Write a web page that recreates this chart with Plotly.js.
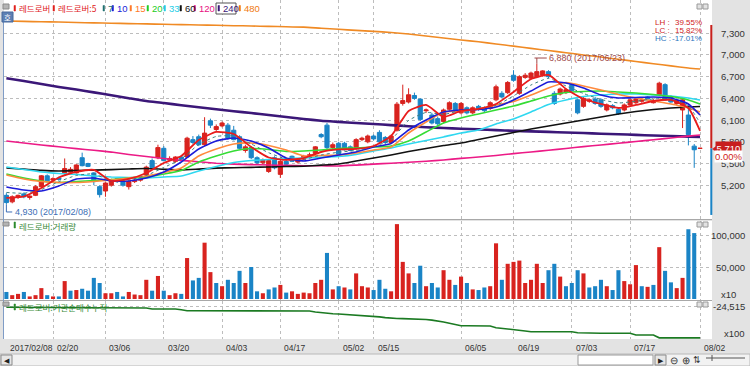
<!DOCTYPE html>
<html><head><meta charset="utf-8">
<script src="https://cdn.plot.ly/plotly-3.0.1.min.js"></script>
<style>html,body{margin:0;padding:0;background:#fff}#chart{width:750px;height:366px}</style>
</head><body><div id="chart"></div>
<script>
const stockName = '레드로버';
const dates = ['2017/02/08','2017/02/09','2017/02/10','2017/02/13','2017/02/14','2017/02/15','2017/02/16','2017/02/17','2017/02/20','2017/02/21','2017/02/22','2017/02/23','2017/02/24','2017/02/27','2017/02/28',
'2017/03/02','2017/03/03','2017/03/06','2017/03/07','2017/03/08','2017/03/09','2017/03/10','2017/03/13','2017/03/14','2017/03/15','2017/03/16','2017/03/17','2017/03/20','2017/03/21','2017/03/22','2017/03/23','2017/03/24','2017/03/27','2017/03/28','2017/03/29','2017/03/30','2017/03/31',
'2017/04/03','2017/04/04','2017/04/05','2017/04/06','2017/04/07','2017/04/10','2017/04/11','2017/04/12','2017/04/13','2017/04/14','2017/04/17','2017/04/18','2017/04/19','2017/04/20','2017/04/21','2017/04/24','2017/04/25','2017/04/26','2017/04/27','2017/04/28',
'2017/05/02','2017/05/04','2017/05/08','2017/05/10','2017/05/11','2017/05/12','2017/05/15','2017/05/16','2017/05/17','2017/05/18','2017/05/19','2017/05/22','2017/05/23','2017/05/24','2017/05/25','2017/05/26','2017/05/29','2017/05/30','2017/05/31',
'2017/06/01','2017/06/02','2017/06/05','2017/06/07','2017/06/08','2017/06/09','2017/06/12','2017/06/13','2017/06/14','2017/06/15','2017/06/16','2017/06/19','2017/06/20','2017/06/21','2017/06/22','2017/06/23','2017/06/26','2017/06/27','2017/06/28','2017/06/29','2017/06/30',
'2017/07/03','2017/07/04','2017/07/05','2017/07/06','2017/07/07','2017/07/10','2017/07/11','2017/07/12','2017/07/13','2017/07/14','2017/07/17','2017/07/18','2017/07/19','2017/07/20','2017/07/21','2017/07/24','2017/07/25','2017/07/26','2017/07/27','2017/07/28','2017/07/31',
'2017/08/01','2017/08/02'];

const open = [5060,4970,5030,5080,5030,5060,5180,5330,5270,5300,
5360,5380,5370,5580,5500,5370,5180,5120,5200,5290,
5250,5180,5250,5270,5340,5540,5580,5710,5550,5530,
5590,5590,5830,5870,5760,6090,5970,6020,6030,5960,
5870,5680,5720,5580,5510,5390,5580,5350,5530,5600,
5520,5560,5600,5640,5900,6030,5720,5780,5780,5730,
5710,5830,5800,5880,5930,5860,5790,5960,6330,6350,
6440,6390,6230,6170,6120,6080,6250,6330,6200,6270,
6200,6290,6270,6260,6380,6470,6480,6720,6470,6690,
6680,6700,6720,6770,6470,6460,6480,6590,6380,6290,
6360,6390,6380,6240,6300,6250,6240,6310,6340,6360,
6420,6340,6450,6590,6420,6330,6240,6170,5740,5710];
const high = [5090,5060,5070,5100,5060,5200,5340,5350,5310,5320,
5570,5450,5490,5650,5510,5380,5200,5240,5290,5300,
5260,5270,5290,5310,5470,5570,5760,5740,5600,5600,
5610,5870,5880,5900,6140,6120,6040,6080,6060,6020,
5890,5760,5740,5600,5570,5560,5600,5550,5560,5610,
5570,5620,5650,5740,5920,6060,5790,5800,5800,5750,
5850,5870,5900,5900,5960,5880,5900,6350,6590,6540,
6480,6400,6260,6200,6150,6260,6360,6350,6350,6290,
6290,6310,6290,6360,6590,6500,6640,6790,6720,6750,
6770,6880,6790,6790,6500,6550,6540,6610,6400,6420,
6400,6420,6400,6330,6320,6270,6330,6400,6410,6400,
6430,6390,6630,6610,6440,6380,6390,6310,5770,5710];
const low = [4930,4950,5010,5020,5000,5050,5170,5240,5250,5260,
5340,5360,5360,5460,5450,5200,5030,5040,5180,5230,
5180,5140,5230,5250,5320,5430,5560,5530,5540,5510,
5540,5580,5770,5740,5740,5990,5950,6000,5830,5820,
5700,5650,5560,5490,5490,5370,5420,5300,5470,5520,
5500,5540,5580,5620,5850,5700,5700,5600,5680,5670,
5690,5810,5780,5820,5780,5770,5770,5940,6300,6330,
6380,6090,6200,6040,6020,6060,6230,6200,6180,6180,
6180,6230,6210,6240,6360,6400,6460,6630,6450,6670,
6660,6680,6700,6680,6310,6440,6460,6500,6180,6270,
6340,6310,6270,6220,6250,6170,6220,6290,6320,6340,
6370,6330,6430,6370,6340,6310,5990,5750,5440,5710];
const close = [4960,5040,5060,5040,5050,5180,5330,5260,5290,5280,
5430,5420,5480,5470,5460,5250,5070,5230,5280,5250,
5200,5250,5270,5290,5450,5440,5720,5540,5570,5590,
5560,5850,5790,5760,5920,6030,6010,6060,5850,5830,
5710,5730,5580,5510,5550,5540,5440,5530,5490,5530,
5560,5600,5620,5730,5870,5720,5760,5620,5690,5680,
5830,5850,5880,5840,5800,5790,5880,6320,6370,6450,
6400,6110,6240,6060,6050,6240,6340,6220,6330,6200,
6270,6250,6230,6340,6560,6420,6620,6650,6700,6720,
6750,6770,6780,6700,6330,6530,6520,6510,6200,6400,
6380,6330,6290,6310,6270,6190,6310,6380,6390,6380,
6390,6370,6610,6380,6350,6370,6380,5900,5690,5710];
const volume = [11000,6000,8000,11000,4000,6000,17000,6000,4000,4000,
28000,13000,14000,16000,13000,33000,25000,9000,9000,11000,
4000,11000,7000,6000,30000,13000,36000,13000,6000,9000,
8000,64000,29000,33000,88000,42000,25000,20000,30000,25000,
44000,25000,50000,12000,9000,15000,18000,22000,10000,12000,
8000,10000,9000,25000,30000,72000,15000,20000,18000,15000,
40000,20000,18000,14000,30000,16000,12000,117000,58000,40000,
25000,52000,20000,25000,18000,45000,30000,22000,35000,25000,
15000,14000,18000,20000,87000,30000,55000,58000,60000,25000,
30000,55000,25000,45000,55000,35000,20000,25000,45000,40000,
18000,20000,30000,20000,14000,45000,28000,23000,53000,20000,
19000,22000,81000,44000,26000,17000,33000,109000,103000,0];
const instCum = [-24640,-24640,-24640,-24640,-24640,-24640,-24640,-24640,-24640,-24640,
-24640,-24640,-24640,-24640,-24640,-24640,-24640,-24640,-24640,-24640,
-24640,-24640,-24640,-24640,-24780,-24990,-24990,-24990,-24990,-24990,
-25150,-25340,-25340,-25340,-25340,-25340,-25340,-25340,-25340,-25340,
-25340,-25340,-25400,-25400,-25400,-25400,-25400,-25400,-25400,-25400,
-25400,-25400,-25400,-25600,-25745,-25850,-25950,-26000,-26080,-26150,
-26217,-26280,-26350,-26422,-26600,-26750,-26893,-26920,-26950,-26980,
-27010,-27037,-27150,-27270,-27385,-27650,-27918,-28160,-28410,-28420,
-28430,-28445,-28460,-28472,-28820,-28930,-29040,-29148,-29310,-29480,
-29640,-29640,-29640,-29640,-29640,-29640,-29640,-29640,-29845,-29910,
-29968,-29968,-29968,-29968,-29968,-29968,-29968,-29968,-30317,-30317,
-30317,-30317,-30900,-30900,-30900,-30900,-30900,-30900,-30900,-30900];

const maDays = [0,3,6,9,12,15,18,21,24,27,30,33,36,39,42,45,48,51,54,57,60,63,66,69,72,75,78,81,84,87,90,93,96,99,102,105,108,111,114,117,119];
const ma5 = [5024,5044,5162,5307,5383,5411,5259,5286,5369,5507,5604,5825,5936,5908,5728,5583,5549,5576,5659,5694,5701,5742,5880,6226,6309,6143,6226,6254,6323,6489,6668,6724,6530,6392,6323,6267,6309,6364,6378,6267,5950];
const ma7 = [5100,5089,5141,5249,5335,5356,5259,5273,5335,5445,5563,5763,5874,5881,5770,5649,5563,5556,5618,5656,5680,5735,5829,6095,6206,6178,6233,6251,6302,6434,6585,6676,6572,6468,6385,6337,6361,6392,6392,6295,6061];
const ma10 = [5176,5134,5120,5190,5286,5300,5259,5259,5300,5383,5521,5701,5811,5853,5811,5715,5576,5535,5576,5618,5659,5728,5777,5963,6102,6212,6240,6247,6281,6378,6502,6627,6613,6544,6447,6406,6413,6420,6406,6323,6171];
const ma15 = [5342,5286,5252,5238,5238,5252,5272,5300,5328,5376,5438,5604,5701,5770,5784,5749,5687,5604,5611,5618,5646,5687,5728,5922,6074,6212,6226,6254,6309,6357,6447,6544,6620,6571,6516,6454,6406,6364,6323,6267,6212];
const ma20 = [5355,5300,5259,5238,5252,5266,5279,5300,5314,5355,5404,5521,5604,5673,5708,5694,5666,5673,5687,5708,5715,5728,5742,5811,5936,6060,6129,6185,6240,6295,6364,6433,6482,6496,6502,6489,6475,6454,6426,6378,6323];
const ma33 = [5452,5417,5383,5362,5348,5328,5314,5307,5300,5314,5328,5397,5459,5514,5542,5556,5565,5576,5586,5597,5625,5673,5715,5770,5818,5867,5922,5963,6047,6116,6212,6316,6378,6426,6447,6461,6461,6447,6433,6406,6378];
const ma60 = [5438,5422,5405,5397,5404,5409,5416,5424,5431,5420,5411,5423,5436,5442,5447,5452,5458,5463,5477,5494,5535,5576,5618,5666,5708,5749,5784,5832,5880,5929,5977,6019,6060,6102,6143,6185,6219,6247,6267,6281,6288];
const ma120 = [5811,5784,5756,5731,5706,5683,5658,5625,5596,5569,5543,5524,5504,5492,5485,5480,5474,5470,5469,5466,5478,5492,5504,5518,5532,5549,5571,5590,5611,5637,5659,5684,5708,5733,5756,5781,5804,5829,5853,5878,5894];
const ma240 = [6679,6641,6599,6558,6522,6483,6444,6403,6363,6337,6305,6277,6250,6223,6197,6171,6143,6116,6091,6075,6060,6046,6031,6016,6001,5991,5981,5972,5962,5952,5944,5937,5929,5921,5912,5904,5896,5887,5880,5872,5867];
const ma480 = [7470,7464,7459,7455,7449,7444,7439,7434,7430,7424,7420,7415,7410,7405,7401,7395,7391,7385,7369,7355,7340,7326,7311,7290,7262,7235,7207,7182,7152,7122,7091,7062,7032,7000,6971,6940,6910,6880,6849,6820,6806];

const tickDates = ['2017/02/08','2017/02/20','2017/03/06','2017/03/20','2017/04/03','2017/04/17','2017/05/02','2017/05/15','2017/06/05','2017/06/19','2017/07/03','2017/07/17','2017/08/02'];
const tickText = ['2017/02/08','02/20','03/06','03/20','04/03','04/17','05/02','05/15','06/05','06/19','07/03','07/17','08/02'];
const priceTicks = [5200,5500,5800,6100,6400,6700,7000,7300];
const volTicks = [50000,100000];
const instTicks = [-24515];
const maPeriods = ['5','7','10','15','20','33','60','120','240','480'];
const statLH = '39.55%', statLC = '15.82%', statHC = '-17.01%';

// ---------------- drawing ----------------
const PL = 4, PW = 708, PH = 339;
const px = p => (p - PL) / PW;
const py = p => (PH - p) / PH;
const FN = "'Liberation Sans', Arial, sans-serif";
const FK = "'Noto Sans CJK KR', sans-serif";
const UP = '#d8231f', DN = '#1a84c6';

const idx = dates.map((d, i) => i);
const maX = maDays.slice();
const fmt = v => v.toLocaleString('en-US');

const hiIdx = high.indexOf(Math.max(...high));
const loIdx = low.indexOf(Math.min(...low));
const last = close.length - 1;

const volColors = close.map((c, i) => {
  const ref = i === 0 ? open[0] : close[i - 1];
  return c > ref ? UP : DN;
});

const traces = [];
traces.push({
  type: 'candlestick', x: idx, open: open, high: high, low: low, close: close,
  xaxis: 'x', yaxis: 'y', whiskerwidth: 0, hoverinfo: 'skip', showlegend: false,
  increasing: {line: {color: UP, width: 1}, fillcolor: UP},
  decreasing: {line: {color: DN, width: 1}, fillcolor: DN}
});
traces.push({
  type: 'bar', x: idx, y: volume, xaxis: 'x', yaxis: 'y2',
  marker: {color: volColors, line: {width: 0}}, hoverinfo: 'skip', showlegend: false
});
traces.push({
  type: 'scatter', mode: 'lines', x: idx, y: instCum, xaxis: 'x', yaxis: 'y3',
  line: {color: '#1b7a22', width: 1.6}, hoverinfo: 'skip', showlegend: false
});
const maStyle = {
  '480': {c: '#f08a24', w: 1.6}, '240': {c: '#3b1778', w: 2.6}, '120': {c: '#ec1a86', w: 1.6},
  '60': {c: '#111111', w: 1.6}, '33': {c: '#2fd8f0', w: 1.6}, '20': {c: '#35dc35', w: 1.6},
  '15': {c: '#ff8a3d', w: 1.6}, '10': {c: '#1c1cd8', w: 1.6}, '7': {c: '#3b8080', w: 1, d: 'dot'},
  '5': {c: '#e81c1c', w: 1.8}
};
const maData = {'5': ma5, '7': ma7, '10': ma10, '15': ma15, '20': ma20, '33': ma33, '60': ma60, '120': ma120, '240': ma240, '480': ma480};
['480','240','120','60','33','20','15','10','7','5'].forEach(k => {
  traces.push({
    type: 'scatter', mode: 'lines', x: maX, y: maData[k], xaxis: 'x', yaxis: 'y',
    line: {color: maStyle[k].c, width: maStyle[k].w, dash: maStyle[k].d || 'solid', shape: 'spline', smoothing: 0.5},
    hoverinfo: 'skip', showlegend: false
  });
});

const gridIdx = tickDates.slice(1).map(d => dates.indexOf(d));

const shapes = [];
const annotations = [];
function rectP(x0, y0, x1, y1, fill, line, lw) {
  shapes.push({type: 'rect', xref: 'paper', yref: 'paper', x0: px(x0), x1: px(x1), y0: py(y1), y1: py(y0),
    fillcolor: fill, line: {color: line || fill, width: lw === undefined ? 1 : lw}, layer: 'above'});
}
function lineP(x0, y0, x1, y1, color, w) {
  shapes.push({type: 'line', xref: 'paper', yref: 'paper', x0: px(x0), x1: px(x1), y0: py(y0), y1: py(y1),
    line: {color: color, width: w || 1}, layer: 'above'});
}
function txt(x, y, text, o) {
  annotations.push(Object.assign({xref: 'paper', yref: 'paper', x: px(x), y: py(y), text: text, showarrow: false,
    xanchor: 'left', yanchor: 'middle', font: {family: FN, size: 9, color: '#333'}}, o || {}));
}

// panel separators and frame
lineP(0, 219.5, 712, 219.5, '#a8a8a8', 1);
lineP(0, 300.5, 712, 300.5, '#a8a8a8', 1);
lineP(3.5, 12, 3.5, 339, '#7f9cc6', 1);

// bottom control bar
rectP(0, 354, 750, 366, '#f2f2f2', '#b8b8b8', 1);
rectP(1, 355, 12, 365, '#e6e6e6', '#8a8a8a', 1);
txt(6.5, 360, '◀', {xanchor: 'center', font: {family: FN, size: 7, color: '#222'}});
rectP(578, 355, 653, 365, '#ffffff', '#9a9a9a', 1);
rectP(655, 355, 666, 365, '#e6e6e6', '#8a8a8a', 1);
txt(660.5, 360, '▶', {xanchor: 'center', font: {family: FN, size: 7, color: '#222'}});
txt(674, 360, '⊖', {xanchor: 'center', font: {family: FN, size: 10, color: '#333'}});
txt(686, 360, '⊕', {xanchor: 'center', font: {family: FN, size: 10, color: '#333'}});
txt(697, 360, '⇅', {xanchor: 'center', font: {family: FN, size: 9, color: '#333'}});
lineP(706, 358, 745, 358, '#555', 1);
lineP(712, 355, 712, 361, '#555', 1);

// header legend row
rectP(3, 4, 9, 9, '#b4b4b4', '#8a8a8a', 1);
const legendItems = [
  {t: stockName, c: '#e0201c', x: 14, k: 1},
  {t: stockName + ':' + maPeriods[0], c: '#e0201c', x: 53, k: 1},
  {t: maPeriods[1], c: '#207070', x: 103},
  {t: maPeriods[2], c: '#1c1cd8', x: 112},
  {t: maPeriods[3], c: '#ff7a2a', x: 130},
  {t: maPeriods[4], c: '#22cc22', x: 147},
  {t: maPeriods[5], c: '#22cde6', x: 164},
  {t: maPeriods[6], c: '#111111', x: 180},
  {t: maPeriods[7], c: '#e8117f', x: 194},
  {t: maPeriods[8], c: '#3b1778', x: 218, box: true},
  {t: maPeriods[9], c: '#f07a10', x: 239}
];
legendItems.forEach(it => {
  if (it.box) rectP(216, 3, 236, 14, '#ffffff', '#555555', 1);
  rectP(it.x, 5.5, it.x + 1.5, 11, it.c, it.c, 0.5);
  txt(it.x + 3, 8.5, it.t, {font: {family: it.k ? FK : FN, size: it.k ? 8.5 : 9.5, color: it.c}});
});
rectP(2, 12, 13, 22, '#5d80b4', '#46699c', 1);
txt(7.5, 17, '호', {xanchor: 'center', font: {family: FK, size: 7.5, color: '#ffffff'}});

// panel corner buttons
[[4, 9], [222, 227], [302, 307]].forEach(r => {
  rectP(697, r[0], 702, r[1], '#e2e2e2', '#9a9a9a', 1);
  rectP(703, r[0], 708, r[1], '#e2e2e2', '#9a9a9a', 1);
});

// volume / inst legends
rectP(3, 222, 9, 226, '#b4b4b4', '#8a8a8a', 1);
rectP(14, 222, 15.5, 228, '#2e8b2e', '#2e8b2e', 0.5);
txt(17, 225.5, stockName + ':거래량', {font: {family: FK, size: 8.5, color: '#3c8c3c'}});
rectP(3, 302, 9, 306, '#b4b4b4', '#8a8a8a', 1);
rectP(14, 304, 15.5, 310, '#2e8b2e', '#2e8b2e', 0.5);
txt(17, 307, stockName + ':기관순매수누적', {font: {family: FK, size: 8.5, color: '#3c8c3c'}});

// right axis labels
priceTicks.forEach(v => annotations.push({xref: 'paper', yref: 'y', x: px(747), y: v, text: fmt(v), showarrow: false,
  xanchor: 'right', yanchor: 'middle', font: {family: FN, size: 9.5, color: '#333'}}));
volTicks.forEach(v => annotations.push({xref: 'paper', yref: 'y2', x: px(747), y: v, text: fmt(v), showarrow: false,
  xanchor: 'right', yanchor: 'middle', font: {family: FN, size: 9.5, color: '#333'}}));
txt(738, 294, 'x10', {xanchor: 'right', font: {family: FN, size: 9.5, color: '#333'}});
instTicks.forEach(v => annotations.push({xref: 'paper', yref: 'y3', x: px(747), y: v, text: fmt(v), showarrow: false,
  xanchor: 'right', yanchor: 'middle', font: {family: FN, size: 9.5, color: '#333'}}));
txt(747, 333, 'x100', {xanchor: 'right', font: {family: FN, size: 9.5, color: '#333'}});

// current price indicator bar
shapes.push({type: 'line', xref: 'paper', yref: 'y', x0: px(711.3), x1: px(711.3), y0: close[last], y1: 7415, line: {color: '#c8201c', width: 2}, layer: 'above'});
shapes.push({type: 'line', xref: 'paper', yref: 'y', x0: px(711.3), x1: px(711.3), y0: 4789, y1: close[last], line: {color: DN, width: 2}, layer: 'above'});
annotations.push({xref: 'paper', yref: 'y', x: px(728.5), y: close[last], text: fmt(close[last]), showarrow: false,
  xanchor: 'center', yanchor: 'middle', bgcolor: '#c81e1e', borderpad: 0.5,
  font: {family: FN, size: 9.5, color: '#ffffff'}});
annotations.push({xref: 'paper', yref: 'paper', x: px(728.5), y: py(156.5), text: '0.00%', showarrow: false,
  xanchor: 'center', yanchor: 'middle', bgcolor: '#ffffff', borderpad: 0,
  font: {family: FN, size: 9.5, color: '#d01c1c'}});
shapes.push({type: 'path', xref: 'paper', yref: 'paper',
  path: 'M ' + px(712.5) + ' ' + py(149) + ' L ' + px(716.5) + ' ' + py(146) + ' L ' + px(716.5) + ' ' + py(152) + ' Z',
  fillcolor: '#d01c1c', line: {color: '#d01c1c', width: 0.5}, layer: 'above'});

// LH / LC / HC
[['LH', statLH, '#d01c1c', 22.7], ['LC', statLC, '#d01c1c', 30.7], ['HC', statHC, '#2a74c0', 39]].forEach(r => {
  txt(653, r[3], r[0] + ' :', {font: {family: FN, size: 8, color: r[2]}});
  txt(704, r[3], r[1], {xanchor: 'right', font: {family: FN, size: 8, color: r[2]}});
});

// high / low markers
shapes.push({type: 'line', xref: 'x', yref: 'y', x0: hiIdx, x1: hiIdx, y0: high[hiIdx], y1: 6958, line: {color: '#a04848', width: 1}});
shapes.push({type: 'line', xref: 'x', yref: 'y', x0: hiIdx - 0.4, x1: hiIdx + 1.7, y0: 6958, y1: 6958, line: {color: '#a04848', width: 1}});
annotations.push({xref: 'x', yref: 'y', x: hiIdx, y: 6958, xshift: 10, text: fmt(high[hiIdx]) + ' (' + dates[hiIdx] + ')',
  showarrow: false, xanchor: 'left', yanchor: 'middle', font: {family: FN, size: 9, color: '#a04848'}});
shapes.push({type: 'line', xref: 'x', yref: 'y', x0: loIdx, x1: loIdx, y0: low[loIdx], y1: 4830, line: {color: '#3d6eb5', width: 1}});
shapes.push({type: 'line', xref: 'x', yref: 'y', x0: loIdx, x1: loIdx + 1, y0: 4830, y1: 4830, line: {color: '#3d6eb5', width: 1}});
annotations.push({xref: 'x', yref: 'y', x: loIdx, y: 4830, xshift: 7, text: fmt(low[loIdx]) + ' (' + dates[loIdx] + ')',
  showarrow: false, xanchor: 'left', yanchor: 'middle', font: {family: FN, size: 9, color: '#3d6eb5'}});

// date labels
tickDates.forEach((d, k) => annotations.push({xref: 'x', yref: 'paper', x: dates.indexOf(d), y: py(347.5), xshift: 2,
  text: tickText[k], showarrow: false, xanchor: 'left', yanchor: 'middle', font: {family: FN, size: 8.5, color: '#333'}}));

const gridC = '#bdbdbd';
const layout = {
  width: 750, height: 366,
  margin: {l: PL, r: 750 - PL - PW, t: 0, b: 366 - PH},
  paper_bgcolor: '#e3e3e3', plot_bgcolor: '#ffffff',
  showlegend: false, bargap: 0.3, boxgap: 0.25, boxgroupgap: 0.05, dragmode: false,
  xaxis: {type: 'linear', range: [-0.41, 121.05], tickvals: gridIdx, showticklabels: false, ticks: '',
    showgrid: true, gridcolor: gridC, griddash: 'dot', gridwidth: 1, zeroline: false, showline: false,
    rangeslider: {visible: false}, fixedrange: true},
  yaxis: {domain: [py(219), 1], range: [4733, 7760], tickvals: priceTicks, showticklabels: false, ticks: '',
    showgrid: true, gridcolor: gridC, griddash: 'dot', zeroline: false, showline: false, fixedrange: true},
  yaxis2: {domain: [py(300), py(221)], range: [-1562, 121875], tickvals: volTicks, showticklabels: false, ticks: '',
    showgrid: true, gridcolor: gridC, griddash: 'dot', zeroline: false, showline: false, fixedrange: true},
  yaxis3: {domain: [0, py(301)], range: [-31137, -23346], tickvals: instTicks, showticklabels: false, ticks: '',
    showgrid: true, gridcolor: gridC, griddash: 'dot', zeroline: false, showline: false, fixedrange: true},
  shapes: shapes, annotations: annotations
};
Plotly.newPlot('chart', traces, layout, {displayModeBar: false, staticPlot: true});
</script>
</body></html>
